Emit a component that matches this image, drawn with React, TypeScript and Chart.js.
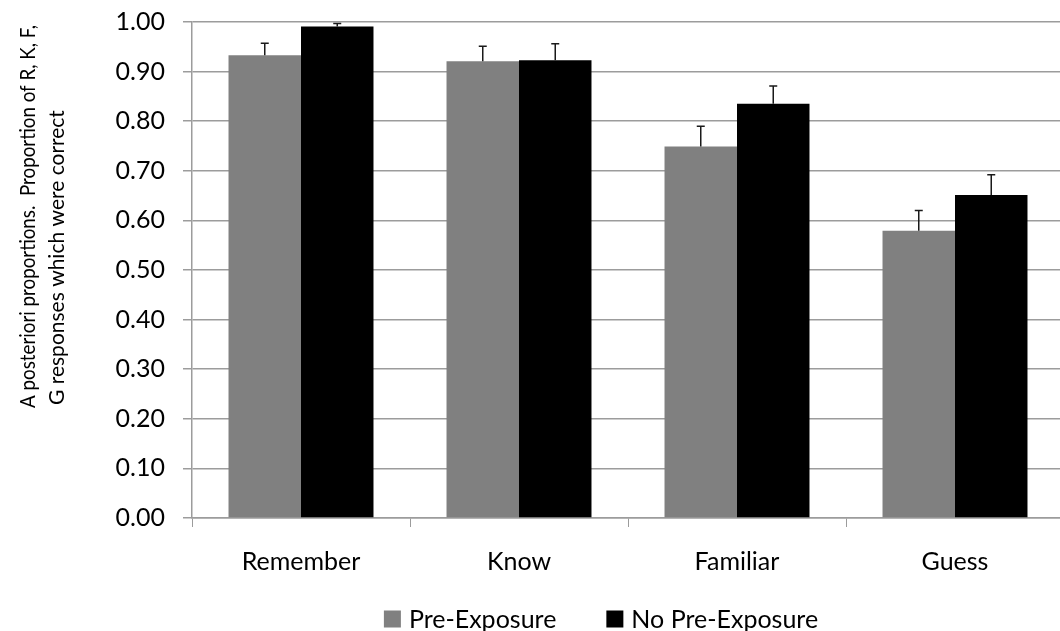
import React, { useEffect, useRef } from "react";
import { Chart, registerables } from "chart.js";

Chart.register(...registerables);

const categories = ["Remember", "Know", "Familiar", "Guess"];
const seriesNames = ["Pre-Exposure", "No Pre-Exposure"];
const preExposure = [0.933, 0.921, 0.749, 0.579];
const noPreExposure = [0.991, 0.923, 0.835, 0.651];
const preExposureErr = [0.024, 0.03, 0.041, 0.041];
const noPreExposureErr = [0.006, 0.033, 0.036, 0.041];
const yTitleLines = [
  "A posteriori proportions.  Proportion of R, K, F,",
  "G responses which were correct",
];

const FONT = "Lato";
const FS = 25;
const TITLE_FS = 21;
const GRID = "#9c9c9c";

const errorBarPlugin = {
  id: "errorBars",
  afterDatasetsDraw(chart: any) {
    const ctx = chart.ctx;
    const yScale = chart.scales.y;
    chart.data.datasets.forEach((ds: any, di: number) => {
      const meta = chart.getDatasetMeta(di);
      const errs: number[] = ds.errors || [];
      meta.data.forEach((el: any, i: number) => {
        const v = ds.data[i];
        const e = errs[i];
        if (e == null) return;
        const yTop = yScale.getPixelForValue(v + e);
        const yBase = yScale.getPixelForValue(v);
        ctx.save();
        ctx.strokeStyle = "#1a1a1a";
        ctx.lineWidth = 1.5;
        ctx.beginPath();
        ctx.moveTo(el.x, yBase);
        ctx.lineTo(el.x, yTop);
        ctx.moveTo(el.x - 4, yTop);
        ctx.lineTo(el.x + 4, yTop);
        ctx.stroke();
        ctx.restore();
      });
    });
  },
};

const yTitlePlugin = {
  id: "yTitle",
  afterDraw(chart: any) {
    const ctx = chart.ctx;
    ctx.save();
    ctx.fillStyle = "#000";
    ctx.font = `${TITLE_FS}px ${FONT}`;
    ctx.textAlign = "left";
    ctx.textBaseline = "middle";
    const xs = [28, 57];
    const ys = [408, 405];
    const maxW = [383, 298];
    yTitleLines.forEach((line, i) => {
      ctx.save();
      ctx.translate(xs[i], ys[i]);
      ctx.rotate(-Math.PI / 2);
      ctx.fillText(line, 0, 0, maxW[i]);
      ctx.restore();
    });
    ctx.restore();
  },
};

const legendPlugin = {
  id: "customLegend",
  afterDraw(chart: any) {
    const ctx = chart.ctx;
    ctx.save();
    ctx.font = `${FS}px ${FONT}`;
    ctx.textBaseline = "middle";
    ctx.textAlign = "left";
    const cy = 619;
    const box = 17;
    const gap = 8;
    const itemGap = 50;
    const widths = chart.data.datasets.map(
      (d: any) => box + gap + ctx.measureText(d.label).width
    );
    const total = widths.reduce((a: number, b: number) => a + b, 0) + itemGap * (widths.length - 1);
    let x = 601 - total / 2;
    chart.data.datasets.forEach((d: any, i: number) => {
      ctx.fillStyle = d.backgroundColor;
      ctx.fillRect(x, cy - box / 2, box, box);
      ctx.fillStyle = "#000";
      ctx.fillText(d.label, x + box + gap, cy + 1);
      x += widths[i] + itemGap;
    });
    ctx.restore();
  },
};

export default function App() {
  const ref = useRef<HTMLCanvasElement | null>(null);
  useEffect(() => {
    document.body.style.margin = "0";
    document.body.style.overflow = "hidden";
    const chart = new Chart(ref.current as HTMLCanvasElement, {
      type: "bar",
      data: {
        labels: categories,
        datasets: [
          {
            label: seriesNames[0],
            data: preExposure,
            errors: preExposureErr,
            backgroundColor: "#808080",
            categoryPercentage: 0.665,
            barPercentage: 1,
          } as any,
          {
            label: seriesNames[1],
            data: noPreExposure,
            errors: noPreExposureErr,
            backgroundColor: "#000000",
            categoryPercentage: 0.665,
            barPercentage: 1,
          } as any,
        ],
      },
      options: {
        animation: false,
        responsive: false,
        layout: { padding: { top: 0, left: 0, right: 0, bottom: 0 } },
        plugins: {
          legend: { display: false },
          tooltip: { enabled: false },
        },
        scales: {
          x: {
            grid: {
              display: true,
              drawOnChartArea: false,
              offset: true,
              tickLength: 9,
              color: GRID,
            },
            border: { display: true, color: GRID, width: 1.5 },
            ticks: {
              color: "#000",
              font: { family: FONT, size: FS },
              padding: 20,
            },
            afterFit: (s: any) => {
              s.height = 113;
            },
          },
          y: {
            min: 0,
            max: 1,
            ticks: {
              stepSize: 0.1,
              color: "#000",
              font: { family: FONT, size: FS },
              padding: 18,
              callback: (v: any) => Number(v).toFixed(2),
            },
            grid: { color: GRID, tickLength: 9, lineWidth: 1.5 },
            border: { display: true, color: GRID, width: 1.5 },
            afterFit: (s: any) => {
              s.width = 192;
              s.paddingTop = 22;
              s.paddingBottom = 0;
            },
          },
        },
      },
      plugins: [errorBarPlugin, yTitlePlugin, legendPlugin],
    });
    return () => chart.destroy();
  }, []);
  return (
    <div style={{ width: 1060, height: 631, overflow: "hidden", position: "relative", background: "#fff" }}>
      <canvas ref={ref} width={1064} height={631} style={{ display: "block" }} />
    </div>
  );
}
